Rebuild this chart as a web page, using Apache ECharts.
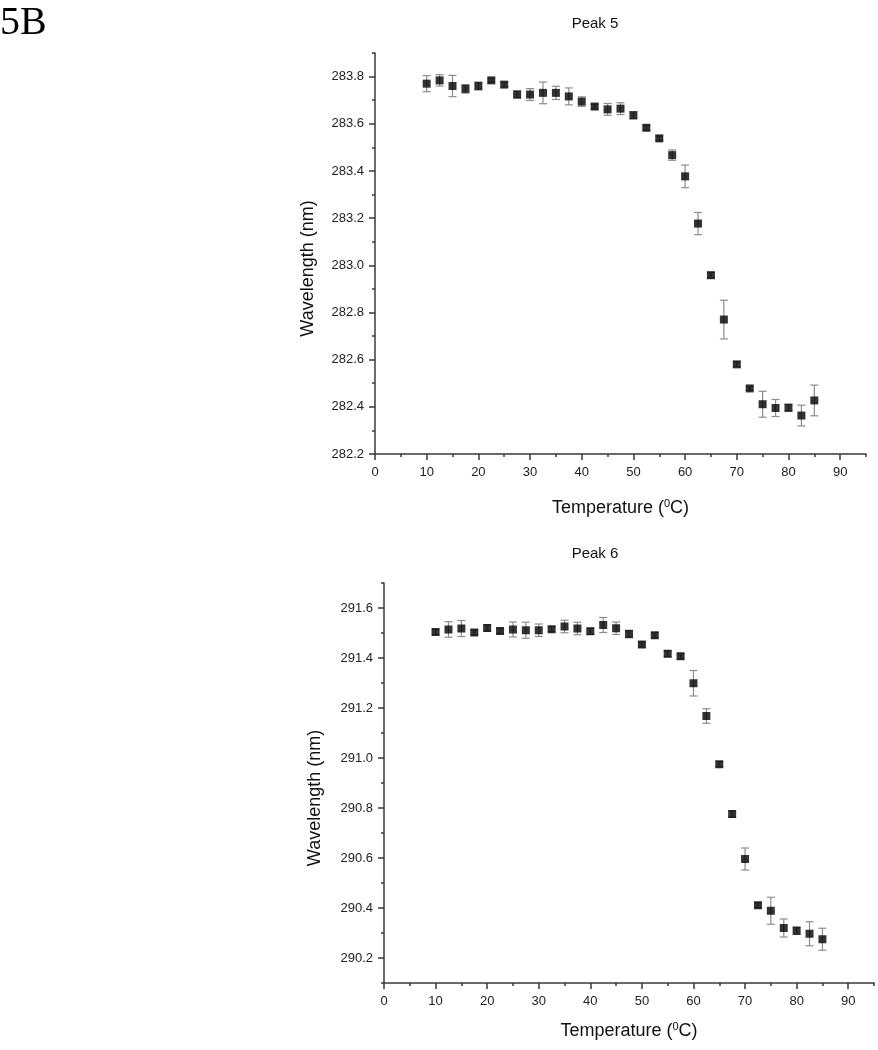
<!DOCTYPE html>
<html>
<head>
<meta charset="utf-8">
<script src="https://cdn.jsdelivr.net/npm/echarts@6/dist/echarts.min.js"></script>
<style>
html,body{margin:0;padding:0;background:#fff;}
#chart{width:878px;height:1050px;}
</style>
</head>
<body>
<div id="chart"></div>
<script>
// ---- data ----
const temps = [10, 12.5, 15, 17.5, 20, 22.5, 25, 27.5, 30, 32.5, 35, 37.5, 40, 42.5, 45, 47.5, 50, 52.5, 55, 57.5, 60, 62.5, 65, 67.5, 70, 72.5, 75, 77.5, 80, 82.5, 85];
const peak5 = [283.770, 283.784, 283.760, 283.748, 283.760, 283.784, 283.766, 283.724, 283.724, 283.731, 283.731, 283.716, 283.694, 283.673, 283.661, 283.664, 283.636, 283.583, 283.538, 283.467, 283.377, 283.177, 282.958, 282.770, 282.580, 282.478, 282.411, 282.395, 282.396, 282.363, 282.427];
const peak5Err = [0.034, 0.024, 0.045, 0.018, 0.017, 0.008, 0.010, 0.015, 0.025, 0.046, 0.028, 0.036, 0.020, 0.010, 0.025, 0.025, 0.015, 0.010, 0.010, 0.022, 0.048, 0.047, 0.012, 0.082, 0.010, 0.008, 0.055, 0.036, 0.015, 0.044, 0.065];
const peak6 = [291.504, 291.514, 291.518, 291.502, 291.520, 291.508, 291.514, 291.511, 291.511, 291.515, 291.526, 291.518, 291.507, 291.532, 291.519, 291.496, 291.454, 291.491, 291.417, 291.407, 291.299, 291.168, 290.975, 290.776, 290.596, 290.411, 290.389, 290.320, 290.309, 290.297, 290.275];
const peak6Err = [0.010, 0.031, 0.032, 0.010, 0.012, 0.010, 0.030, 0.032, 0.025, 0.010, 0.025, 0.025, 0.012, 0.030, 0.025, 0.015, 0.010, 0.010, 0.012, 0.010, 0.051, 0.029, 0.010, 0.012, 0.044, 0.010, 0.054, 0.036, 0.015, 0.048, 0.044];

const xTickLabels = [0, 10, 20, 30, 40, 50, 60, 70, 80, 90];
const xMinorTicks = [5, 15, 25, 35, 45, 55, 65, 75, 85, 95];
const y5TickLabels = [282.2, 282.4, 282.6, 282.8, 283.0, 283.2, 283.4, 283.6, 283.8];
const y5MinorTicks = [282.3, 282.5, 282.7, 282.9, 283.1, 283.3, 283.5, 283.7, 283.9];
const y6TickLabels = [290.2, 290.4, 290.6, 290.8, 291.0, 291.2, 291.4, 291.6];
const y6MinorTicks = [290.1, 290.3, 290.5, 290.7, 290.9, 291.1, 291.3, 291.5, 291.7];

const titles = ['Peak 5', 'Peak 6'];
const yName = 'Wavelength (nm)';

// ---- chart ----
const chart = echarts.init(document.getElementById('chart'), null, {renderer: 'canvas'});
const FONT = 'Liberation Sans, Arial, sans-serif';
const axisColor = '#3a3a3a';
const labelColor = '#222';

function xAxisPair(gridIndex, nameGap) {
  return [{
    type: 'value', gridIndex: gridIndex, position: 'bottom', min: 0, max: 95, interval: 10,
    axisLine: {show: true, lineStyle: {color: axisColor, width: 1.5}},
    axisTick: {show: true, length: 6, customValues: xTickLabels, lineStyle: {color: axisColor, width: 1.5}},
    axisLabel: {show: true, customValues: xTickLabels, margin: 12, fontSize: 13, color: labelColor, fontFamily: FONT},
    splitLine: {show: false},
    name: 'Temperature ({sup|0}C)', nameLocation: 'middle', nameGap: nameGap,
    nameTextStyle: {fontSize: 18, color: '#111', fontFamily: FONT,
      rich: {sup: {fontSize: 11, color: '#111', fontFamily: FONT, padding: [0, 0, 9, 0]}}}
  }, {
    type: 'value', gridIndex: gridIndex, position: 'bottom', min: 0, max: 95, interval: 10,
    axisLine: {show: false},
    axisTick: {show: true, length: 3, customValues: xMinorTicks, lineStyle: {color: axisColor, width: 1.5}},
    axisLabel: {show: false},
    splitLine: {show: false}
  }];
}

function yAxisPair(gridIndex, min, max, labels, minors, nameGap) {
  return [{
    type: 'value', gridIndex: gridIndex, position: 'left', min: min, max: max, interval: 0.1,
    axisLine: {show: true, lineStyle: {color: axisColor, width: 1.5}},
    axisTick: {show: true, length: 6, customValues: labels, lineStyle: {color: axisColor, width: 1.5}},
    axisLabel: {show: true, customValues: labels, margin: 11, fontSize: 13, color: labelColor, fontFamily: FONT,
      formatter: function (v) { return Number(v).toFixed(1); }},
    splitLine: {show: false},
    name: yName, nameLocation: 'middle', nameGap: nameGap, nameRotate: 90,
    nameTextStyle: {fontSize: 18, color: '#111', fontFamily: FONT, padding: [0, 30, 0, 0]}
  }, {
    type: 'value', gridIndex: gridIndex, position: 'left', min: min, max: max, interval: 0.1,
    axisLine: {show: false},
    axisTick: {show: true, length: 3, customValues: minors, lineStyle: {color: axisColor, width: 1.5}},
    axisLabel: {show: false},
    splitLine: {show: false}
  }];
}

function errRender(params, api) {
  const x = api.value(0), lo = api.value(1), hi = api.value(2);
  const a = api.coord([x, hi]);
  const b = api.coord([x, lo]);
  const w = 4;
  const st = {stroke: '#8c8c8c', lineWidth: 1.2};
  return {type: 'group', children: [
    {type: 'line', shape: {x1: a[0], y1: a[1], x2: b[0], y2: b[1]}, style: st},
    {type: 'line', shape: {x1: a[0] - w, y1: a[1], x2: a[0] + w, y2: a[1]}, style: st},
    {type: 'line', shape: {x1: b[0] - w, y1: b[1], x2: b[0] + w, y2: b[1]}, style: st}
  ]};
}

const errData5 = temps.map((t, i) => [t, peak5[i] - peak5Err[i], peak5[i] + peak5Err[i]]);
const errData6 = temps.map((t, i) => [t, peak6[i] - peak6Err[i], peak6[i] + peak6Err[i]]);
const pts5 = temps.map((t, i) => [t, peak5[i]]);
const pts6 = temps.map((t, i) => [t, peak6[i]]);

const xA0 = xAxisPair(0, 44);
const xA1 = xAxisPair(1, 38);
const yA0 = yAxisPair(0, 282.2, 283.9, y5TickLabels, y5MinorTicks, 58);
const yA1 = yAxisPair(1, 290.1, 291.7, y6TickLabels, y6MinorTicks, 60);

const option = {
  animation: false,
  backgroundColor: '#fff',
  title: [
    {text: titles[0], left: 590, top: 11, textAlign: 'center',
      textStyle: {fontSize: 15, fontWeight: 'normal', color: '#111', fontFamily: FONT}},
    {text: titles[1], left: 590, top: 541, textAlign: 'center',
      textStyle: {fontSize: 15, fontWeight: 'normal', color: '#111', fontFamily: FONT}}
  ],
  graphic: [{
    type: 'text', left: 0, top: 3,
    style: {text: '5B', font: '40px "Liberation Serif", "Times New Roman", serif', fill: '#000'}
  }],
  grid: [
    {left: 375, top: 53, width: 491, height: 401, containLabel: false},
    {left: 384, top: 583, width: 490, height: 400, containLabel: false}
  ],
  xAxis: [xA0[0], xA0[1], xA1[0], xA1[1]],
  yAxis: [yA0[0], yA0[1], yA1[0], yA1[1]],
  series: [
    {type: 'custom', xAxisIndex: 0, yAxisIndex: 0, renderItem: errRender, data: errData5,
      encode: {x: 0, y: [1, 2]}, z: 1, silent: true},
    {type: 'scatter', xAxisIndex: 0, yAxisIndex: 0, data: pts5, symbol: 'rect', symbolSize: 8,
      itemStyle: {color: '#000'}, z: 2},
    {type: 'custom', xAxisIndex: 2, yAxisIndex: 2, renderItem: errRender, data: errData6,
      encode: {x: 0, y: [1, 2]}, z: 1, silent: true},
    {type: 'scatter', xAxisIndex: 2, yAxisIndex: 2, data: pts6, symbol: 'rect', symbolSize: 8,
      itemStyle: {color: '#000'}, z: 2}
  ]
};
chart.setOption(option);
</script>
</body>
</html>
